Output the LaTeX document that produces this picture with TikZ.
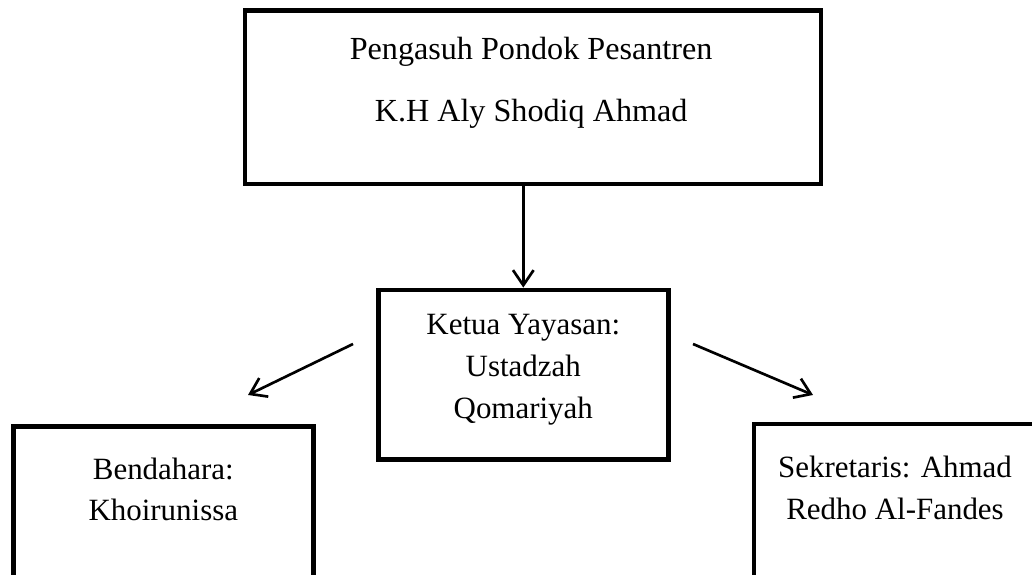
\documentclass[tikz,border=0pt]{standalone}
\usepackage{fontspec}
\setmainfont{Liberation Serif}
\usetikzlibrary{arrows.meta}

\begin{document}
\begin{tikzpicture}[
  box/.style={draw, rectangle, line width=2pt, inner sep=0pt},
  lbl/.style={align=center, inner sep=0pt, font=\fontsize{12.8}{17.2}\selectfont},
  arr/.style={-{Straight Barb[length=2.2mm,width=3mm]}, line width=1.1pt}
]
  \useasboundingbox (0,0) rectangle (15,-8.357);

  % Pengasuh
  \node[box, minimum width=8.372cm, minimum height=2.517cm] (pengasuh) at (7.747,-1.416) {};
  \node[lbl, font=\fontsize{13.3}{17.2}\selectfont] (pengasuhTxt) at (7.72,-1.203) {Pengasuh Pondok Pesantren\\[8.4pt]K.H Aly Shodiq Ahmad};

  % Ketua Yayasan
  \node[box, minimum width=4.215cm, minimum height=2.461cm] (ketua) at (7.606,-5.446) {};
  \node[lbl] (ketuaTxt) at (7.606,-5.374) {Ketua Yayasan:\\Ustadzah\\Qomariyah};

  % Bendahara
  \node[box, minimum width=4.36cm, minimum height=2.52cm] (bendahara) at (2.374,-7.461) {};
  \node[lbl] (bendaharaTxt) at (2.374,-7.114) {Bendahara:\\Khoirunissa};

  % Sekretaris
  \node[box, minimum width=4.099cm, minimum height=2.558cm] (sekretaris) at (13.009,-7.442) {};
  \node[lbl] (sekretarisTxt) at (13.009,-7.092) {Sekretaris: Ahmad\\Redho Al-Fandes};

  % Arrows
  \draw[arr] (pengasuh.south -| ketua.north) -- (ketua.north);
  \coordinate (kiriAwal) at (5.131,-5.0);
  \coordinate (kiriUjung) at (3.605,-5.741);
  \coordinate (kananAwal) at (10.073,-5.0);
  \coordinate (kananUjung) at (11.817,-5.741);
  \draw[arr] (kiriAwal) -- (kiriUjung);
  \draw[arr] (kananAwal) -- (kananUjung);
\end{tikzpicture}
\end{document}
